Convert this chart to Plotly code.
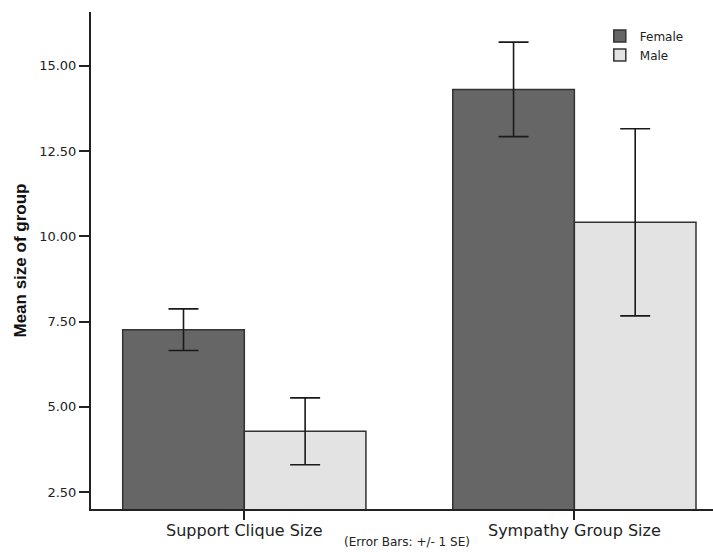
import plotly.graph_objects as go

categories = ["Support Clique Size", "Sympathy Group Size"]
female_mean = [7.26, 14.31]
female_se = [0.61, 1.385]
male_mean = [4.28, 10.41]
male_se = [0.98, 2.745]
y_ticks = [2.5, 5.0, 7.5, 10.0, 12.5, 15.0]

FONT = "DejaVu Sans"

fig = go.Figure()
fig.add_trace(go.Bar(
    name="Female", x=categories, y=female_mean,
    marker=dict(color="#666666", line=dict(color="#333333", width=1.5)),
    error_y=dict(type="data", array=female_se, visible=True,
                 color="#1a1a1a", thickness=1.6, width=15),
))
fig.add_trace(go.Bar(
    name="Male", x=categories, y=male_mean,
    marker=dict(color="#e3e3e3", line=dict(color="#333333", width=1.5)),
    error_y=dict(type="data", array=male_se, visible=True,
                 color="#1a1a1a", thickness=1.6, width=15),
))

fig.update_layout(
    width=713, height=554,
    margin=dict(l=91, r=0, t=12, b=45, autoexpand=False),
    paper_bgcolor="white", plot_bgcolor="white",
    barmode="group", bargap=0.263, bargroupgap=0,
    font=dict(family=FONT, color="#222222"),
    showlegend=True,
    legend=dict(x=0.818, y=0.981, xanchor="left", yanchor="top",
                font=dict(family=FONT, size=12, color="#222222"),
                bgcolor="rgba(0,0,0,0)", itemwidth=30, tracegroupgap=0),
    xaxis=dict(range=[-0.4645, 1.42], showline=True, linecolor="#222222",
               linewidth=2, ticks="outside", ticklen=9, tickwidth=1.5,
               tickcolor="#222222", showgrid=False, zeroline=False,
               tickfont=dict(family=FONT, size=16, color="#222222"),
               ticklabelstandoff=-3,
               automargin=False),
    yaxis=dict(range=[2.0, 16.58], showline=True, linecolor="#222222",
               linewidth=2, ticks="outside", ticklen=10, tickwidth=1.5,
               tickcolor="#222222", showgrid=False, zeroline=False,
               tickvals=y_ticks, ticktext=[f"{v:.2f}" for v in y_ticks],
               tickfont=dict(family=FONT, size=13, color="#222222"),
               automargin=False),
    annotations=[
        dict(text="<b>Mean size of group</b>", xref="paper", yref="paper",
             x=-0.1141, y=0.5, xanchor="center", yanchor="middle",
             textangle=-90, showarrow=False,
             font=dict(family="Liberation Sans", size=17, color="#111111")),
        dict(text="(Error Bars: +/- 1 SE)", xref="paper", yref="paper",
             x=(407 - 91) / 622, y=-(542 - 509) / 497, xanchor="center",
             yanchor="middle", showarrow=False,
             font=dict(family=FONT, size=12, color="#222222")),
    ],
)

fig.write_html("out.html")
